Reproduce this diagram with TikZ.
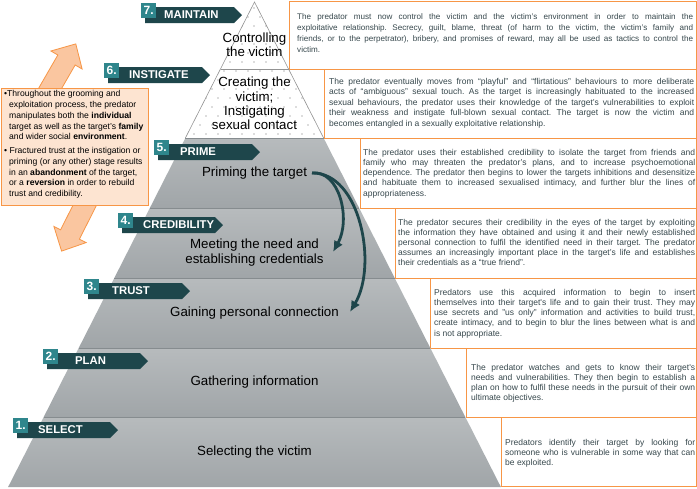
\documentclass[tikz,border=0pt]{standalone}
\usepackage{fontspec}
\setmainfont{Liberation Sans}
\usetikzlibrary{arrows.meta}
\definecolor{tealdark}{HTML}{1E464B}
\definecolor{tealsq}{HTML}{2F868C}
\definecolor{orng}{HTML}{F79646}
\definecolor{orngfill}{HTML}{FAC6A0}
\definecolor{peach}{HTML}{FDE4D1}
\definecolor{boxtext}{HTML}{37484D}
\definecolor{graytop}{HTML}{B7BBBD}
\definecolor{graybot}{HTML}{A0A5A8}
\definecolor{grayline}{HTML}{868C8F}
\definecolor{dotgray}{HTML}{6E6E6E}
\newlength{\tw}
\newcommand{\jl}[1]{\makebox[\tw][s]{#1}}
% #1 id, #2 band left, #3 band top, #4 number, #5 word, #6 word x, #7 band length
\newcommand{\stagetag}[7]{%
  \fill[tealdark] (#2,#3) -- ++(#7,0) -- ++(8,8) -- ++(-8,8) -- ++(-#7,0) -- cycle;
  \node[tagsq] (sq#1) at ({#2-4},{#3-4}) {#4};
  \node[tagword] (tag#1) at (#6,{#3+8}) {#5};
}
\begin{document}
\frenchspacing
\begin{tikzpicture}[x=1pt,y=-1pt,
  tagsq/.style={fill=tealsq, minimum width=15pt, minimum height=15pt, inner sep=0pt,
    anchor=north west, text=white, font=\bfseries\fontsize{12}{12}\selectfont},
  tagword/.style={anchor=west, inner sep=0pt, text=white, font=\bfseries\fontsize{11.3}{12}\selectfont},
  layertext/.style={align=center, inner sep=0pt, font=\fontsize{13.3}{14.3}\selectfont},
  infobox/.style={draw=orng, line width=0.9pt, fill=white},
  infotext/.style={anchor=west, inner sep=0pt, align=left, text=boxtext},
  pyrline/.style={draw=gray!85, line width=0.6pt},
  layershade/.style={top color=graytop, bottom color=graybot},
  sepline/.style={draw=grayline, line width=0.8pt},
  curvearrow/.style={draw=tealdark, line width=2.8pt, -{Latex[length=11pt,width=10pt]}},
  bigarrow/.style={fill=orngfill, draw=orng, line width=0.8pt, line join=miter}
]
\useasboundingbox (0,0) rectangle (697,488);
\fill[white] (0,0) rectangle (697,488);

% ---------- text boxes ----------
\draw[infobox] (289,1) rectangle (696,69);
\draw[infobox] (324.5,69) rectangle (696,138);
\draw[infobox] (360,138) rectangle (696,208.5);
\draw[infobox] (395,208.5) rectangle (696,278);
\draw[infobox] (430.5,278) rectangle (696,348);
\draw[infobox] (466,348) rectangle (696,417);
\draw[infobox] (501,417) rectangle (696,486.5);

% ---------- pyramid: dotted top ----------
\fill[white] (254.5,2) -- (323.6,138) -- (185.4,138) -- cycle;
\begin{scope}
  \clip (254.5,2) -- (323.6,138) -- (185.4,138) -- cycle;
  \foreach \r in {0,...,14}{
    \pgfmathsetmacro\yy{8+9*\r}
    \pgfmathsetmacro\off{mod(\r,2)*6}
    \foreach \c in {0,...,14}{
      \fill[dotgray] ({170+\off+12*\c},\yy) circle (0.55pt);
    }
  }
\end{scope}
\draw[pyrline] (185.4,138) -- (254.5,2) -- (323.6,138);
\draw[pyrline] (220.5,69) -- (288.5,69);

% ---------- pyramid: gray layers ----------
\shade[layershade] (185.4,138) -- (323.6,138) -- (359.4,208.5) -- (149.6,208.5) -- cycle;
\shade[layershade] (149.6,208.5) -- (359.4,208.5) -- (394.7,278) -- (114.3,278) -- cycle;
\shade[layershade] (114.3,278) -- (394.7,278) -- (430.3,348) -- (78.7,348) -- cycle;
\shade[layershade] (78.7,348) -- (430.3,348) -- (465.3,417) -- (43.7,417) -- cycle;
\shade[layershade] (43.7,417) -- (465.3,417) -- (500.9,487) -- (8.1,487) -- cycle;
\draw[sepline] (185.4,138) -- (323.6,138);
\draw[sepline] (149.6,208.5) -- (359.4,208.5);
\draw[sepline] (114.3,278) -- (394.7,278);
\draw[sepline] (78.7,348) -- (430.3,348);
\draw[sepline] (43.7,417) -- (465.3,417);

% ---------- pyramid texts ----------
\node[layertext] (l7) at (254.5,44.5) {Controlling\\the victim};
\node[layertext] (l6) at (254.5,103.5) {Creating the\\victim;\\Instigating\\sexual contact};
\node[layertext] (l5) at (254.5,173) {Priming the target};
\node[layertext] (l4) at (254.5,252.5) {Meeting the need and\\establishing credentials};
\node[layertext] (l3) at (254.5,313) {Gaining personal connection};
\node[layertext] (l2) at (254.5,382) {Gathering information};
\node[layertext] (l1) at (254.5,452) {Selecting the victim};

% ---------- curved arrows ----------
\coordinate (cs) at (312,173);
\coordinate (ce1) at (333,252);
\coordinate (ce2) at (350,312);
\draw[curvearrow] (cs) .. controls (340,170) and (351,220) .. (ce1);
\draw[curvearrow] (cs) .. controls (360,172) and (378,265) .. (ce2);

% ---------- stage tags ----------
\stagetag{7}{145}{7}{7.}{MAINTAIN}{164}{89}
\stagetag{6}{108}{67}{6.}{INSTIGATE}{129}{94}
\stagetag{5}{158}{144}{5.}{PRIME}{180}{94}
\stagetag{4}{122}{217}{4.}{CREDIBILITY}{143}{93}
\stagetag{3}{88}{283}{3.}{TRUST}{112}{94}
\stagetag{2}{47}{353}{2.}{PLAN}{75}{93}
\stagetag{1}{17}{422}{1.}{SELECT}{38}{93}

% ---------- box texts ----------
\setlength{\tw}{396pt}
\node[infotext, font=\fontsize{8.1}{11}\selectfont] (t7) at (297,33.5) {%
\jl{The predator must now control the victim and the victim’s environment in order to maintain the}\\
\jl{exploitative relationship. Secrecy, guilt, blame, threat (of harm to the victim, the victim’s family and}\\
\jl{friends, or to the perpetrator), bribery, and promises of reward, may all be used as tactics to control the}\\
victim.};
\setlength{\tw}{365pt}
\node[infotext, font=\fontsize{8.5}{10.4}\selectfont] (t6) at (329,103) {%
\jl{The predator eventually moves from “playful” and “flirtatious” behaviours to more deliberate}\\
\jl{acts of “ambiguous” sexual touch. As the target is increasingly habituated to the increased}\\
\jl{sexual behaviours, the predator uses their knowledge of the target’s vulnerabilities to exploit}\\
\jl{their weakness and instigate full-blown sexual contact. The target is now the victim and}\\
becomes entangled in a sexually exploitative relationship.};
\setlength{\tw}{332pt}
\node[infotext, font=\fontsize{8.5}{10.2}\selectfont] (t5) at (363,173.5) {%
\jl{The predator uses their established credibility to isolate the target from friends and}\\
\jl{family who may threaten the predator’s plans, and to increase psychoemotional}\\
\jl{dependence. The predator then begins to lower the targets inhibitions and desensitize}\\
\jl{and habituate them to increased sexualised intimacy, and further blur the lines of}\\
appropriateness.};
\setlength{\tw}{297pt}
\node[infotext, font=\fontsize{8.5}{10.2}\selectfont] (t4) at (398,242.5) {%
\jl{The predator secures their credibility in the eyes of the target by exploiting}\\
\jl{the information they have obtained and using it and their newly established}\\
\jl{personal connection to fulfil the identified need in their target. The predator}\\
\jl{assumes an increasingly important place in the target’s life and establishes}\\
their credentials as a “true friend”.};
\setlength{\tw}{261pt}
\node[infotext, font=\fontsize{8.5}{10.2}\selectfont] (t3) at (434,313.5) {%
\jl{Predators use this acquired information to begin to insert}\\
\jl{themselves into their target\textquotesingle s life and to gain their trust. They may}\\
\jl{use secrets and "us only" information and activities to build trust,}\\
\jl{create intimacy, and to begin to blur the lines between what is and}\\
is not appropriate.};
\setlength{\tw}{224pt}
\node[infotext, font=\fontsize{8.5}{10}\selectfont] (t2) at (471,383) {%
\jl{The predator watches and gets to know their target\textquotesingle s}\\
\jl{needs and vulnerabilities. They then begin to establish a}\\
\jl{plan on how to fulfil these needs in the pursuit of their own}\\
ultimate objectives.};
\setlength{\tw}{190pt}
\node[infotext, font=\fontsize{8.5}{10}\selectfont] (t1) at (505,453) {%
\jl{Predators identify their target by looking for}\\
\jl{someone who is vulnerable in some way that can}\\
be exploited.};

% ---------- orange double arrow ----------
\draw[bigarrow] (22.84,115.6) -- (57.84,55) -- (50.9,51) -- (75.8,43.9) -- (82.1,69) -- (75.16,65) -- (40.16,125.6) -- cycle;
\draw[bigarrow] (110.9,176.7) -- (79.38,239.23) -- (86.1,242.6) -- (61.6,251.1) -- (53.9,226.4) -- (60.62,229.77) -- (92.1,167.3) -- cycle;

% ---------- note box ----------
\draw[draw=orng, line width=0.9pt, fill=peach] (1,88) rectangle (148,205);
\node[anchor=north west, inner sep=0pt, align=left, font=\fontsize{8.6}{10.7}\selectfont] (note) at (4,90.5) {%
\textbullet Throughout the grooming and\\
\hspace*{5pt}exploitation process, the predator\\
\hspace*{5pt}manipulates both the \textbf{individual}\\
\hspace*{5pt}target as well as the target’s \textbf{family}\\
\hspace*{5pt}and wider social \textbf{environment}.\\[3.3pt]
\textbullet{} Fractured trust at the instigation or\\
\hspace*{5pt}priming (or any other) stage results\\
\hspace*{5pt}in an \textbf{abandonment} of the target,\\
\hspace*{5pt}or a \textbf{reversion} in order to rebuild\\
\hspace*{5pt}trust and credibility.};
\end{tikzpicture}
\end{document}
